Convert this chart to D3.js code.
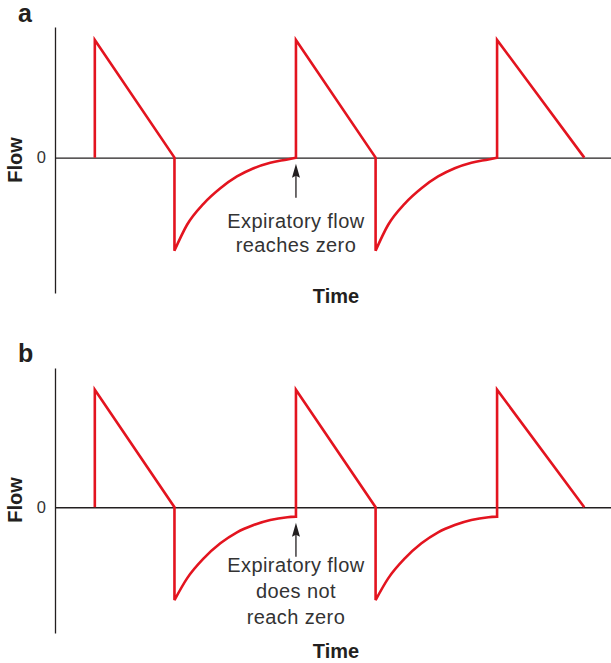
<!DOCTYPE html>
<html>
<head>
<meta charset="utf-8">
<script src="https://cdn.jsdelivr.net/npm/d3@7"></script>
<style>
  html, body { margin: 0; padding: 0; background: #fff; }
  .flow-viz { width: 611px; height: 663px; }
  svg { display: block; font-family: "Liberation Sans", Arial, Helvetica, sans-serif; }
</style>
</head>
<body>
<div class="flow-viz"></div>
<script>
// Breath timing (s), shared by both panels
const breathStarts = [0.79, 4.78, 8.77];
const inspEnds = [2.37, 6.36, 10.5];
const peakFlow = 1.0;

// Expiratory flow: time since end of inspiration (s)
const expTimes = [0, 0.25, 0.58, 0.91, 1.24, 1.57, 1.9, 2.24, 2.41];
// panel a: expiratory flow reaches zero
const expFlowA = [-0.79, -0.57, -0.39, -0.26, -0.16, -0.09, -0.043, -0.015, 0];
// panel b: expiratory flow does not reach zero
const expFlowB = [-0.79, -0.605, -0.435, -0.307, -0.213, -0.151, -0.108, -0.085, -0.08];

const panelLabels = ["a", "b"];
const noteLinesA = ["Expiratory flow", "reaches zero"];
const noteLinesB = ["Expiratory flow", "does not", "reach zero"];
const yTicks = [0];
const xLabel = "Time";
const yLabel = "Flow";

document.addEventListener("DOMContentLoaded", () => {
  const width = 611;
  const height = 663;
  const red = "#e3141f";
  const ink = "#231f20";

  const svg = d3
    .select(".flow-viz")
    .append("svg")
    .attr("width", width)
    .attr("height", height)
    .attr("viewBox", `0 0 ${width} ${height}`);

  // Shared time scale
  const x = d3.scaleLinear().domain([0, 11.03]).range([55, 611]);

  // Per-panel layout
  const panels = [
    {
      label: panelLabels[0], flow: expFlowA, notes: noteLinesA,
      top: 27, bottom: 293, domain: [-1.15, 1.11],
      labelY: 21.5, flowY: 160, timeY: 303, noteY: 227.7, noteStep: 24
    },
    {
      label: panelLabels[1], flow: expFlowB, notes: noteLinesB,
      top: 368, bottom: 633, domain: [-1.07, 1.185],
      labelY: 362, flowY: 500, timeY: 658, noteY: 572.3, noteStep: 25.8
    }
  ];

  panels.forEach((p) => {
    const y = d3.scaleLinear().domain(p.domain).range([p.bottom, p.top]);
    const g = svg.append("g");

    // Y axis: vertical line with a single "0" label
    const yAxis = g
      .append("g")
      .attr("transform", `translate(${x(0)},0)`)
      .call(
        d3
          .axisLeft(y)
          .tickValues(yTicks)
          .tickFormat(d3.format("d"))
          .tickSize(0)
          .tickSizeOuter(0)
          .tickPadding(9)
      );
    yAxis.select(".domain").attr("stroke", ink).attr("stroke-width", 1.3);
    yAxis
      .selectAll("text")
      .attr("fill", "#333")
      .style("font-size", "16.5px");
    yAxis.attr("font-family", null);

    // Zero line
    const xAxis = g
      .append("g")
      .attr("transform", `translate(0,${y(0)})`)
      .call(d3.axisBottom(x).tickValues([]).tickSizeOuter(0));
    xAxis.select(".domain").attr("stroke", ink).attr("stroke-width", 1.3);

    // Build waveform path: straight inspiratory ramps + curved expiratory decay
    const straight = d3.line().x((d) => x(d[0])).y((d) => y(d[1]));
    const curved = d3
      .line()
      .x((d) => x(d[0]))
      .y((d) => y(d[1]))
      .curve(d3.curveMonotoneX);

    let pathD = "";
    breathStarts.forEach((t0, i) => {
      const pts = [[t0, peakFlow], [inspEnds[i], 0]];
      if (i === 0) pts.unshift([t0, 0]);
      let seg = straight(pts);
      if (i > 0) seg = "L" + seg.slice(1);
      pathD += seg;
      if (i < breathStarts.length - 1) {
        const exp = expTimes.map((t, k) => [inspEnds[i] + t, p.flow[k]]);
        pathD += "L" + curved(exp).slice(1);
      }
    });

    g.append("path")
      .attr("d", pathD)
      .attr("fill", "none")
      .attr("stroke", red)
      .attr("stroke-width", 2.6)
      .attr("stroke-linejoin", "miter");

    // Panel letter
    g.append("text")
      .attr("x", 18)
      .attr("y", p.labelY)
      .attr("fill", ink)
      .style("font-size", "25px")
      .style("font-weight", "bold")
      .text(p.label);

    // Axis titles
    g.append("text")
      .attr("transform", `translate(21.5,${p.flowY}) rotate(-90)`)
      .attr("text-anchor", "middle")
      .attr("fill", ink)
      .style("font-size", "20px")
      .style("font-weight", "bold")
      .text(yLabel);

    g.append("text")
      .attr("x", 336)
      .attr("y", p.timeY)
      .attr("text-anchor", "middle")
      .attr("fill", ink)
      .style("font-size", "20px")
      .style("font-weight", "bold")
      .text(xLabel);

    // Arrow pointing at end of the second expiration
    const ax = x(breathStarts[1]);
    const tipY = y(p.flow[p.flow.length - 1]) + 6;
    g.append("line")
      .attr("x1", ax)
      .attr("x2", ax)
      .attr("y1", tipY + 10)
      .attr("y2", tipY + 34)
      .attr("stroke", ink)
      .attr("stroke-width", 1.3);
    g.append("path")
      .attr("d", `M${ax},${tipY}L${ax - 4},${tipY + 14}L${ax},${tipY + 12}L${ax + 4},${tipY + 14}Z`)
      .attr("fill", ink);

    // Annotation text
    g.append("text")
      .attr("text-anchor", "middle")
      .attr("fill", "#333")
      .style("font-size", "20px")
      .style("letter-spacing", "0.4px")
      .selectAll("tspan")
      .data(p.notes)
      .enter()
      .append("tspan")
      .attr("x", ax)
      .attr("y", (d, i) => p.noteY + i * p.noteStep)
      .text((d) => d);
  });
});
</script>
</body>
</html>
